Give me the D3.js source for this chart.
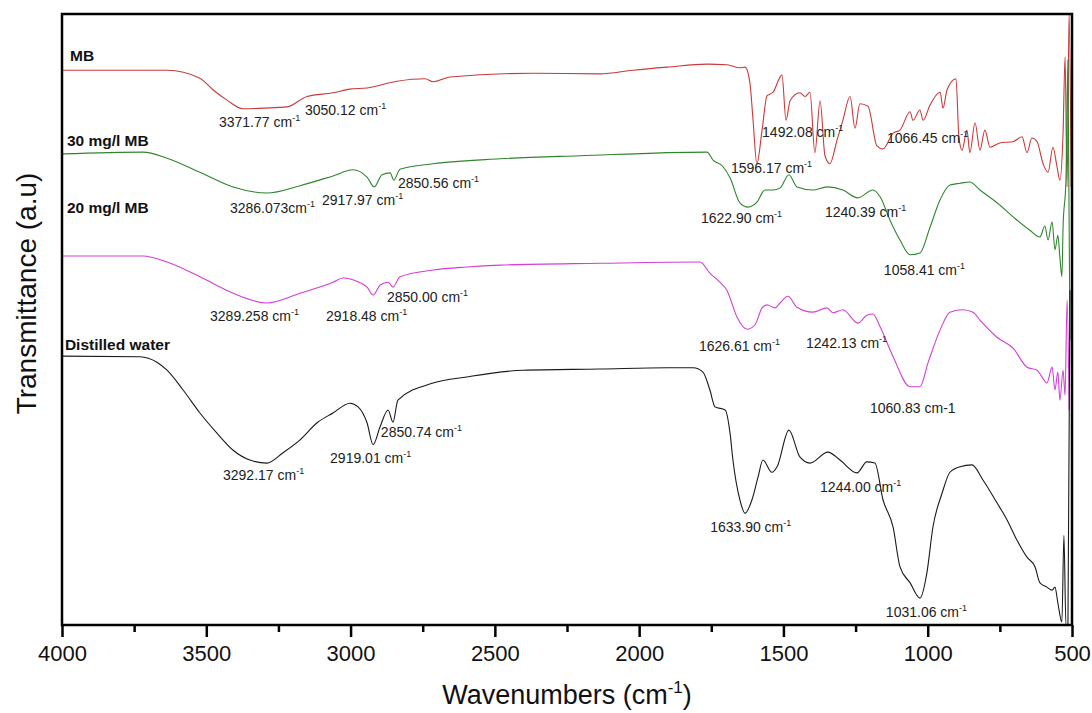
<!DOCTYPE html>
<html lang="en">
<head>
<meta charset="utf-8">
<script src="https://cdn.jsdelivr.net/npm/d3@7"></script>
<style>
  body { margin: 0; background: #fff; }
  text { font-family: Arial, "Liberation Sans", sans-serif; }
</style>
</head>
<body>
<script>
// FTIR spectra, wavenumber (cm-1) vs transmittance (arbitrary units, stacked)
var majorTicks = [4000, 3500, 3000, 2500, 2000, 1500, 1000, 500];
var minorTicks = [3750, 3250, 2750, 2250, 1750, 1250, 750];

var seriesNames = ["MB", "30 mg/l MB", "20 mg/l MB", "Distilled water"];

// [wavenumber, transmittance]
var mbCurve = [[4000,90.8],[3799,90.8],[3636,90.8],[3522,89.5],[3477,87.6],[3428,85.9],[3373,84.5],[3297,84.6],[3220,84.8],
  [3151,86.5],[3061,87.1],[3002,87.7],[2943,87.9],[2839,89.0],[2742,89.4],[2714,88.9],[2655,89.7],[2368,90.3],[2136,90.2],
  [2021,90.8],[1903,91.3],[1765,91.8],[1696,91.7],[1651,91.2],[1633,91.3],[1616,88.7],[1606,83.1],[1592,75.5],[1574,81.0],
  [1557,86.6],[1536,87.2],[1505,90.0],[1491,82.6],[1477,85.8],[1443,87.1],[1425,86.5],[1408,87.2],[1391,77.3],[1373,85.8],
  [1356,76.8],[1339,75.5],[1314,79.4],[1294,82.6],[1269,86.5],[1252,81.3],[1235,85.3],[1207,84.9],[1176,78.4],[1155,77.9],
  [1120,80.5],[1096,81.0],[1061,84.0],[1051,82.6],[1027,84.3],[1016,82.6],[992,85.1],[957,87.2],[947,84.6],[933,87.6],
  [902,89.4],[892,79.9],[881,77.7],[864,81.0],[854,77.3],[836,82.2],[819,77.7],[802,81.0],[784,78.2],[750,78.9],[704,79.1],
  [673,79.9],[656,77.3],[639,79.7],[621,79.1],[601,75.6],[583,74.1],[566,78.2],[552,75.0],[542,72.8],[531,80.5],[524,93.0],
  [517,71.7],[510,100.3],[503,71.7]];

var mg30Curve = [[4000,77.1],[3719,77.4],[3636,76.4],[3522,74.1],[3407,71.7],[3290,70.7],[3175,71.9],[3061,73.5],[2992,74.5],
  [2943,73.3],[2918,71.7],[2891,73.7],[2863,74.0],[2850,72.8],[2829,74.6],[2714,75.5],[2482,76.3],[2205,76.8],[1765,77.4],
  [1744,76.1],[1709,75.0],[1685,73.2],[1651,69.1],[1623,68.4],[1592,69.2],[1564,71.2],[1536,71.2],[1512,71.5],[1481,73.7],
  [1453,71.7],[1398,71.2],[1349,71.7],[1294,71.2],[1242,69.9],[1190,71.2],[1165,70.1],[1131,66.3],[1096,63.0],[1061,60.6],
  [1027,60.9],[992,65.1],[957,69.6],[923,72.0],[888,72.3],[854,72.5],[819,71.2],[760,69.1],[704,66.8],[646,64.6],[611,63.5],
  [594,65.3],[583,63.0],[569,66.0],[559,61.4],[549,63.8],[542,60.2],[535,57.0],[531,65.1],[521,72.8],[514,92.5],[507,46.6]];

var mg20Curve = [[4000,60.4],[3719,60.4],[3636,59.4],[3522,57.0],[3407,54.3],[3290,52.7],[3175,54.3],[3061,56.1],[3026,56.8],
  [2967,56.0],[2943,55.3],[2922,54.0],[2898,55.6],[2870,56.1],[2853,55.3],[2829,57.0],[2714,58.1],[2597,58.6],[2482,58.9],
  [2136,59.2],[1789,59.4],[1755,57.6],[1720,56.1],[1696,54.8],[1661,50.4],[1626,48.4],[1599,49.1],[1574,51.9],[1557,52.4],
  [1529,51.9],[1512,52.7],[1484,53.8],[1453,52.0],[1398,51.2],[1349,51.9],[1328,51.1],[1294,51.6],[1242,49.4],[1211,50.7],
  [1190,50.9],[1165,48.8],[1120,43.9],[1061,39.0],[1027,39.0],[999,42.9],[957,48.3],[923,51.2],[878,51.6],[843,51.2],
  [819,49.9],[760,47.1],[704,45.3],[656,42.2],[621,41.7],[604,40.6],[587,39.6],[569,42.2],[559,38.5],[549,41.4],[542,36.8],
  [531,41.7],[524,37.6],[517,53.2],[510,35.2]];

var waterCurve = [[4000,44.0],[3730,43.9],[3671,43.0],[3636,41.7],[3581,38.5],[3522,34.7],[3463,31.4],[3407,28.6],[3349,27.0],
  [3290,26.5],[3234,28.2],[3175,30.3],[3116,33.1],[3061,34.7],[3002,36.3],[2974,35.7],[2943,33.1],[2922,29.5],[2898,32.4],
  [2870,35.2],[2853,33.2],[2836,36.8],[2714,39.6],[2597,40.6],[2402,41.7],[2136,41.9],[1903,42.1],[1813,42.1],[1779,41.4],
  [1755,38.5],[1737,35.7],[1702,35.2],[1685,31.4],[1675,27.0],[1651,20.5],[1633,18.3],[1609,20.5],[1588,24.2],[1571,27.0],
  [1540,25.0],[1522,25.9],[1481,31.9],[1443,27.5],[1408,26.5],[1346,28.3],[1304,27.0],[1245,24.9],[1211,26.7],[1183,26.5],
  [1155,20.5],[1120,16.0],[1096,9.5],[1061,6.9],[1027,4.4],[1003,8.5],[982,16.0],[950,21.6],[923,25.0],[888,25.9],[847,26.2],
  [808,23.7],[760,20.0],[725,17.2],[691,13.9],[656,11.1],[628,9.5],[611,6.9],[587,6.2],[569,5.7],[559,6.2],[549,3.6],
  [535,0.5],[528,14.7],[521,0],[514,0],[507,54.8]];

// series name labels: [wavenumber, transmittance] of label start
var nameAnchors = [[3972, 92.3], [3983, 78.4], [3983, 67.4], [3990, 45.0]];

// peak labels: [text, wavenumber, transmittance, superscript]
var peakLabels = [
  ["3371.77 cm", 3456, 81.5, true], ["3050.12 cm", 3158, 83.5, true], ["1596.17 cm", 1682, 74.0, true],
  ["1492.08 cm", 1574, 79.9, true], ["1066.45 cm", 1141, 78.9, true],
  ["3286.073cm", 3418, 67.4, true], ["2917.97 cm", 3099, 68.7, true], ["2850.56 cm", 2836, 71.5, true],
  ["1622.90 cm", 1786, 65.8, true], ["1240.39 cm", 1356, 66.8, true], ["1058.41 cm", 1152, 57.3, true],
  ["3289.258 cm", 3487, 49.8, true], ["2918.48 cm", 3085, 49.8, true], ["2850.00 cm", 2874, 52.9, true],
  ["1626.61 cm", 1793, 44.8, true], ["1242.13 cm", 1422, 45.3, true], ["1060.83 cm-1", 1200, 34.7, false],
  ["3292.17 cm", 3442, 23.7, true], ["2919.01 cm", 3071, 26.5, true], ["2850.74 cm", 2895, 30.8, true],
  ["1633.90 cm", 1754, 15.2, true], ["1244.00 cm", 1373, 21.8, true], ["1031.06 cm", 1145, 1.3, true]
];

var curves = [mbCurve, mg30Curve, mg20Curve, waterCurve];
var colors = ["#c83a3a", "#2f852f", "#d23fd2", "#1a1a1a"];

var width = 1092, height = 713;
var margin = {top: 14, right: 20, bottom: 88, left: 62};
var w = width - margin.left - margin.right;
var h = height - margin.top - margin.bottom;

var svg = d3.select("body").append("svg")
  .attr("width", width).attr("height", height);

var x = d3.scaleLinear().domain([4000, 500]).range([0, w]);
var y = d3.scaleLinear().domain([0, 100]).range([h, 0]);

var g = svg.append("g").attr("transform", "translate(" + margin.left + "," + margin.top + ")");

g.append("clipPath").attr("id", "plot-clip")
  .append("rect").attr("width", w).attr("height", h);

// curves
var line = d3.line()
  .curve(d3.curveMonotoneX)
  .x(function(d) { return x(d[0]); })
  .y(function(d) { return y(d[1]); });
g.append("g").attr("clip-path", "url(#plot-clip)")
  .selectAll("path")
  .data(curves)
  .enter()
  .append("path")
  .attr("d", line)
  .attr("fill", "none")
  .attr("stroke", function(d, i) { return colors[i]; })
  .attr("stroke-width", 1.1)
  .attr("stroke-linejoin", "round");

// frame
g.append("rect")
  .attr("width", w).attr("height", h)
  .attr("fill", "none").attr("stroke", "#000").attr("stroke-width", 2.5);

// x axis, major and minor ticks
var xAxis = g.append("g").attr("transform", "translate(0," + h + ")")
  .call(d3.axisBottom(x).tickValues(majorTicks).tickSize(12).tickPadding(8).tickFormat(d3.format("d")));
xAxis.select(".domain").remove();
xAxis.selectAll(".tick line").attr("stroke", "#000").attr("stroke-width", 2.5);
xAxis.selectAll(".tick text").attr("font-size", 22).attr("fill", "#111")
  .attr("font-family", "Arial, 'Liberation Sans', sans-serif");

var xMinor = g.append("g").attr("transform", "translate(0," + h + ")")
  .call(d3.axisBottom(x).tickValues(minorTicks).tickSize(7).tickFormat(""));
xMinor.select(".domain").remove();
xMinor.selectAll(".tick line").attr("stroke", "#000").attr("stroke-width", 2.5);

// axis titles
var xt = svg.append("text")
  .attr("x", margin.left + w / 2).attr("y", 704)
  .attr("text-anchor", "middle").attr("font-size", 27).attr("fill", "#111");
xt.append("tspan").text("Wavenumbers (cm");
xt.append("tspan").attr("font-size", 17).attr("dy", -11).text("-1");
xt.append("tspan").attr("dy", 11).text(")");

svg.append("text")
  .attr("transform", "translate(36," + (margin.top + h / 2 - 26) + ") rotate(-90)")
  .attr("text-anchor", "middle").attr("font-size", 28).attr("fill", "#111")
  .text("Transmittance (a.u)");

// series names
g.selectAll(".name")
  .data(seriesNames)
  .enter()
  .append("text")
  .attr("class", "name")
  .attr("x", function(d, i) { return x(nameAnchors[i][0]); })
  .attr("y", function(d, i) { return y(nameAnchors[i][1]); })
  .attr("font-size", 15.5).attr("font-weight", "bold").attr("fill", "#111")
  .text(function(d) { return d; });

// peak labels
var peaks = g.selectAll(".peak")
  .data(peakLabels)
  .enter()
  .append("text")
  .attr("class", "peak")
  .attr("x", function(d) { return x(d[1]); })
  .attr("y", function(d) { return y(d[2]); })
  .attr("font-size", 14).attr("fill", "#222");
peaks.append("tspan").text(function(d) { return d[0]; });
peaks.filter(function(d) { return d[3]; })
  .append("tspan").attr("font-size", 9).attr("dy", -6).text("-1");
</script>
</body>
</html>
